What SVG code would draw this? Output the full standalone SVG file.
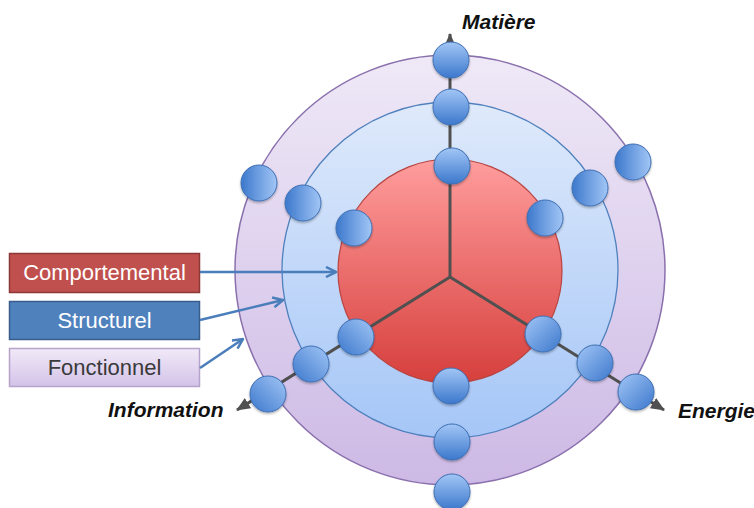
<svg xmlns="http://www.w3.org/2000/svg" width="754" height="508" viewBox="0 0 754 508">
<defs>
<linearGradient id="gOuter" x1="0" y1="0" x2="0" y2="1">
<stop offset="0" stop-color="#efe9f7"/><stop offset="1" stop-color="#cdb9e5"/>
</linearGradient>
<linearGradient id="gMid" x1="0" y1="0" x2="0" y2="1">
<stop offset="0" stop-color="#dfeafb"/><stop offset="1" stop-color="#a5c6f7"/>
</linearGradient>
<linearGradient id="gRed" x1="0" y1="0" x2="0" y2="1">
<stop offset="0" stop-color="#ff9d9d"/><stop offset="1" stop-color="#d63f3c"/>
</linearGradient>
<linearGradient id="bV" x1="0" y1="0" x2="0" y2="1">
<stop offset="0" stop-color="#a2c6f6"/><stop offset="1" stop-color="#3c78cc"/>
</linearGradient>
<linearGradient id="bH" x1="0" y1="0" x2="1" y2="0">
<stop offset="0" stop-color="#3c78cc"/><stop offset="1" stop-color="#a2c6f6"/>
</linearGradient>
<linearGradient id="bL" x1="0" y1="1" x2="1" y2="0">
<stop offset="0" stop-color="#3c78cc"/><stop offset="1" stop-color="#a2c6f6"/>
</linearGradient>
<linearGradient id="bR" x1="0" y1="0" x2="1" y2="1">
<stop offset="0" stop-color="#a2c6f6"/><stop offset="1" stop-color="#3c78cc"/>
</linearGradient>
<linearGradient id="gF" x1="0" y1="0" x2="0" y2="1">
<stop offset="0" stop-color="#f1eaf8"/><stop offset="1" stop-color="#d3c2e8"/>
</linearGradient>
<filter id="sh" x="-30%" y="-30%" width="160%" height="160%">
<feDropShadow dx="0" dy="1.5" stdDeviation="1.2" flood-color="#000" flood-opacity="0.3"/>
</filter>
<marker id="axisHead" markerUnits="userSpaceOnUse" viewBox="0 0 14 12" refX="13" refY="6" markerWidth="14" markerHeight="12" orient="auto">
<path d="M0,0 L14,6 L0,12 Z" fill="#505050"/>
</marker>
<marker id="blueHead" markerUnits="userSpaceOnUse" viewBox="0 0 12 12" refX="11" refY="6" markerWidth="12" markerHeight="12" orient="auto">
<path d="M1,1 L11,6 L1,11" fill="none" stroke="#4a7ebb" stroke-width="2.5" stroke-linejoin="miter"/>
</marker>
</defs>
<style>
.ball{stroke:#3f6fb3;stroke-width:1;filter:url(#sh)}
.axis{stroke:#505050;stroke-width:3;fill:none}
.blink{stroke:#4a7ebb;stroke-width:2.5;fill:none;marker-end:url(#blueHead)}
.lbl{font-family:"Liberation Sans",Arial,sans-serif;font-size:22px;text-anchor:middle}
.ax{font-family:"Liberation Sans",Arial,sans-serif;font-size:21px;font-weight:bold;font-style:italic;fill:#111}
</style>

<g id="fonctionnel-ring">
<circle cx="450" cy="270" r="215" fill="url(#gOuter)" stroke="#8a70ad" stroke-width="1.5"/>
</g>
<g id="structurel-ring">
<circle cx="450" cy="270" r="168" fill="url(#gMid)" stroke="#4f81bd" stroke-width="1.3"/>
</g>
<g id="comportemental-core">
<circle cx="450" cy="271" r="112" fill="url(#gRed)" stroke="#b84441" stroke-width="1.2"/>
</g>

<g id="axes">
<path class="axis" d="M450,277 L450,34" marker-end="url(#axisHead)"/>
<path class="axis" d="M450,277 L237,410" marker-end="url(#axisHead)"/>
<path class="axis" d="M450,277 L664,410" marker-end="url(#axisHead)"/>
</g>

<g id="balls">
<circle class="ball" cx="451" cy="60" r="18" fill="url(#bV)"/>
<circle class="ball" cx="451" cy="107" r="18" fill="url(#bV)"/>
<circle class="ball" cx="452" cy="166" r="18" fill="url(#bV)"/>
<circle class="ball" cx="356" cy="337" r="18" fill="url(#bL)"/>
<circle class="ball" cx="311" cy="364" r="18" fill="url(#bL)"/>
<circle class="ball" cx="268" cy="394" r="18" fill="url(#bL)"/>
<circle class="ball" cx="543" cy="334" r="18" fill="url(#bR)"/>
<circle class="ball" cx="595" cy="363" r="18" fill="url(#bR)"/>
<circle class="ball" cx="636" cy="392" r="18" fill="url(#bR)"/>
<circle class="ball" cx="451" cy="386" r="18" fill="url(#bV)"/>
<circle class="ball" cx="452" cy="442" r="18" fill="url(#bV)"/>
<circle class="ball" cx="452" cy="492" r="18" fill="url(#bV)"/>
<circle class="ball" cx="259" cy="183" r="18" fill="url(#bH)"/>
<circle class="ball" cx="303" cy="203" r="18" fill="url(#bH)"/>
<circle class="ball" cx="354" cy="228" r="18" fill="url(#bH)"/>
<circle class="ball" cx="545" cy="218" r="18" fill="url(#bH)"/>
<circle class="ball" cx="590" cy="188" r="18" fill="url(#bH)"/>
<circle class="ball" cx="633" cy="162" r="18" fill="url(#bH)"/>
</g>

<g id="axis-labels">
<text class="ax" x="462" y="29">Matière</text>
<text class="ax" x="108" y="417">Information</text>
<text class="ax" x="678" y="418">Energie</text>
</g>

<g id="legend-comportemental">
<rect x="9.5" y="253.5" width="190" height="39" fill="#c0504d" stroke="#8c3836" stroke-width="1.5"/>
<text class="lbl" x="104.5" y="280" fill="#ffffff">Comportemental</text>
</g>
<g id="legend-structurel">
<rect x="9.5" y="301.5" width="190" height="38" fill="#4f81bd" stroke="#385d8a" stroke-width="1.5"/>
<text class="lbl" x="104.5" y="328" fill="#ffffff">Structurel</text>
</g>
<g id="legend-fonctionnel">
<rect x="9.5" y="348.5" width="190" height="38" fill="url(#gF)" stroke="#b6a3cc" stroke-width="1.5"/>
<text class="lbl" x="104.5" y="375" fill="#3a3a3a">Fonctionnel</text>
</g>

<g id="connectors">
<path class="blink" d="M200,272 L336,272"/>
<path class="blink" d="M200,320 L283,300"/>
<path class="blink" d="M200,368 L243,339"/>
</g>
</svg>
